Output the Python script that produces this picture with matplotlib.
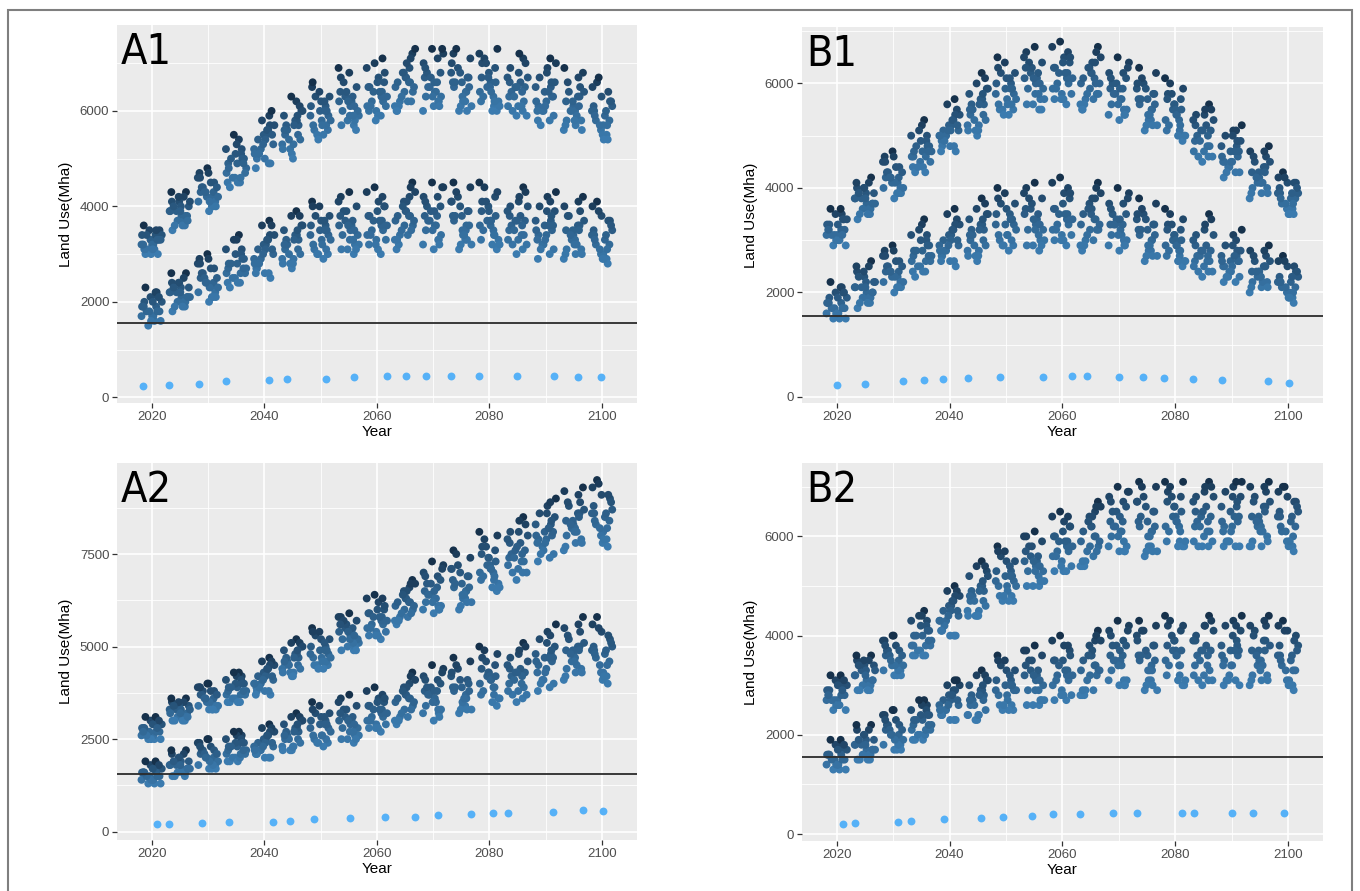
import matplotlib
matplotlib.use("Agg")
import matplotlib.pyplot as plt
from matplotlib.colors import LinearSegmentedColormap
from matplotlib.patches import Rectangle

plt.rcParams['font.family'] = ['Liberation Sans', 'DejaVu Sans']

# time steps of the simulation (points are jittered around these)
YEARS = [2020, 2025, 2030, 2035, 2040, 2045, 2050, 2055, 2060,
         2065, 2070, 2075, 2080, 2085, 2090, 2095, 2100]

# land use, in units of 100 Mha, one row of scenario values per time step
A1_UP = [
    [34, 31, 33, 35, 30, 32, 34, 31, 33, 36, 32, 30, 35, 33, 31, 34, 32, 35, 30, 33, 34, 31, 32, 33],
    [39, 36, 41, 38, 43, 37, 40, 35, 42, 39, 37, 41, 38, 36, 40, 43, 38, 39, 36, 42, 37, 40, 39, 41],
    [43, 40, 46, 42, 48, 41, 44, 39, 47, 43, 41, 45, 42, 40, 44, 47, 42, 43, 40, 46, 41, 45, 43, 44],
    [49, 45, 52, 47, 54, 46, 50, 44, 53, 48, 46, 51, 49, 45, 50, 55, 47, 48, 45, 52, 46, 51, 49, 50],
    [54, 50, 57, 52, 59, 51, 55, 49, 58, 53, 50, 56, 52, 49, 55, 60, 51, 54, 48, 57, 51, 56, 53, 55],
    [57, 52, 60, 55, 62, 53, 58, 51, 61, 56, 53, 59, 55, 52, 58, 63, 54, 57, 50, 60, 54, 59, 56, 57],
    [60, 56, 63, 58, 65, 57, 61, 55, 64, 59, 56, 62, 58, 55, 61, 66, 57, 60, 54, 63, 57, 62, 59, 60],
    [62, 58, 65, 60, 68, 59, 63, 57, 67, 61, 58, 64, 60, 57, 63, 69, 59, 62, 56, 66, 59, 64, 61, 62],
    [64, 60, 67, 62, 70, 61, 65, 59, 69, 63, 60, 66, 62, 59, 65, 71, 61, 64, 58, 68, 61, 66, 63, 64],
    [66, 61, 69, 64, 72, 62, 67, 60, 71, 65, 62, 68, 64, 61, 67, 73, 63, 66, 60, 70, 62, 68, 65, 66],
    [67, 62, 70, 64, 73, 63, 68, 61, 72, 65, 62, 69, 64, 61, 67, 73, 63, 66, 60, 71, 63, 68, 65, 66],
    [66, 61, 69, 64, 72, 62, 67, 60, 71, 65, 62, 68, 64, 61, 67, 73, 63, 66, 60, 70, 62, 68, 65, 66],
    [65, 62, 70, 63, 72, 61, 68, 60, 71, 66, 62, 69, 64, 60, 67, 73, 63, 65, 61, 70, 62, 67, 64, 66],
    [65, 60, 68, 63, 71, 61, 66, 59, 70, 64, 61, 67, 63, 60, 66, 72, 62, 65, 59, 69, 61, 67, 64, 65],
    [64, 59, 67, 62, 70, 60, 65, 58, 69, 63, 60, 66, 61, 58, 65, 71, 61, 63, 57, 68, 60, 66, 62, 64],
    [62, 57, 65, 60, 68, 58, 63, 56, 67, 61, 58, 64, 60, 57, 63, 69, 59, 62, 56, 66, 58, 64, 60, 61],
    [60, 55, 63, 58, 66, 57, 61, 54, 65, 59, 56, 62, 58, 55, 61, 67, 57, 60, 54, 64, 57, 62, 59, 60],
]
A1_LO = [
    [19, 16, 21, 18, 23, 17, 20, 15, 22, 19, 17, 21, 18, 16, 20, 22, 17, 19, 16, 21, 18, 20, 19, 18],
    [22, 19, 24, 21, 26, 20, 23, 18, 25, 22, 20, 24, 21, 19, 23, 26, 20, 22, 19, 24, 21, 23, 22, 21],
    [25, 21, 28, 23, 30, 22, 26, 20, 29, 24, 22, 27, 24, 21, 26, 29, 23, 25, 21, 28, 23, 27, 24, 25],
    [28, 24, 31, 26, 34, 25, 29, 23, 33, 27, 25, 30, 27, 24, 29, 33, 26, 28, 24, 31, 26, 30, 27, 28],
    [31, 26, 34, 29, 37, 27, 32, 25, 36, 30, 27, 33, 29, 26, 32, 36, 28, 31, 26, 34, 28, 33, 30, 31],
    [33, 28, 36, 31, 39, 29, 34, 27, 38, 32, 29, 35, 31, 28, 34, 38, 30, 33, 28, 36, 30, 35, 32, 33],
    [35, 30, 38, 33, 41, 31, 36, 29, 40, 34, 31, 37, 33, 30, 36, 40, 32, 35, 30, 38, 32, 37, 34, 35],
    [36, 31, 40, 34, 43, 32, 37, 30, 42, 35, 32, 39, 34, 31, 37, 41, 33, 36, 31, 39, 33, 38, 35, 36],
    [37, 32, 41, 35, 44, 33, 38, 30, 43, 36, 33, 40, 35, 31, 38, 42, 34, 37, 32, 40, 34, 39, 36, 37],
    [38, 33, 42, 36, 45, 34, 39, 31, 44, 37, 34, 41, 36, 32, 39, 43, 35, 38, 33, 41, 35, 40, 37, 38],
    [38, 33, 42, 36, 45, 34, 40, 31, 44, 37, 33, 41, 36, 32, 39, 44, 35, 38, 32, 42, 35, 40, 37, 39],
    [38, 32, 42, 36, 45, 34, 39, 31, 44, 37, 33, 41, 35, 32, 39, 43, 35, 38, 33, 41, 34, 40, 36, 38],
    [37, 33, 41, 35, 45, 34, 39, 31, 44, 36, 33, 42, 36, 32, 40, 43, 35, 37, 32, 41, 34, 39, 37, 38],
    [37, 32, 41, 35, 44, 33, 38, 30, 43, 36, 33, 40, 35, 31, 38, 42, 34, 37, 32, 40, 34, 39, 36, 37],
    [36, 31, 40, 34, 43, 32, 37, 29, 42, 35, 32, 39, 34, 30, 37, 41, 33, 36, 31, 39, 33, 38, 35, 36],
    [35, 30, 39, 33, 42, 31, 36, 29, 41, 34, 31, 38, 33, 30, 36, 40, 32, 35, 30, 38, 32, 37, 34, 35],
    [34, 29, 38, 32, 41, 30, 35, 28, 40, 33, 30, 37, 32, 29, 35, 39, 31, 34, 29, 37, 31, 36, 33, 34],
]
A1_LOW = [230, 250, 280, 335, 370, 390, 390, 420, 440, 440, 440, 440, 440, 440, 440, 420, 420]

B1_UP = [
    [33, 30, 35, 32, 36, 31, 34, 29, 35, 32, 30, 34, 31, 29, 33, 36, 31, 32, 30, 34, 31, 33, 32, 31],
    [38, 35, 40, 37, 42, 36, 39, 34, 41, 38, 36, 40, 37, 35, 39, 41, 36, 38, 35, 40, 37, 39, 38, 37],
    [42, 39, 45, 41, 47, 40, 43, 38, 46, 42, 40, 44, 41, 39, 43, 46, 40, 42, 39, 45, 41, 44, 42, 43],
    [47, 44, 50, 46, 53, 45, 48, 43, 52, 47, 44, 49, 46, 44, 48, 51, 45, 47, 43, 50, 46, 49, 47, 48],
    [51, 48, 54, 50, 57, 49, 52, 47, 56, 51, 48, 53, 50, 48, 52, 55, 49, 51, 47, 54, 50, 53, 51, 52],
    [56, 51, 59, 54, 62, 52, 57, 50, 61, 55, 52, 58, 54, 51, 57, 60, 53, 56, 51, 59, 53, 58, 55, 56],
    [59, 55, 62, 57, 65, 56, 60, 54, 64, 58, 55, 61, 57, 55, 60, 63, 56, 59, 54, 62, 56, 61, 58, 59],
    [61, 56, 64, 59, 67, 57, 62, 55, 66, 60, 57, 63, 59, 56, 62, 65, 58, 61, 55, 64, 58, 63, 60, 61],
    [62, 57, 65, 60, 68, 58, 63, 56, 67, 61, 58, 64, 60, 57, 63, 66, 59, 62, 57, 65, 59, 64, 61, 62],
    [61, 56, 64, 59, 67, 57, 62, 55, 66, 60, 57, 63, 58, 56, 62, 65, 58, 60, 55, 64, 58, 63, 60, 61],
    [59, 54, 62, 57, 65, 55, 60, 53, 64, 58, 55, 61, 57, 54, 60, 63, 56, 59, 54, 62, 56, 61, 58, 59],
    [57, 52, 60, 55, 63, 53, 58, 51, 62, 56, 53, 59, 55, 52, 58, 61, 54, 57, 52, 60, 54, 59, 56, 57],
    [55, 50, 58, 53, 61, 51, 56, 49, 60, 54, 51, 57, 53, 50, 56, 59, 52, 55, 50, 58, 52, 57, 54, 55],
    [51, 46, 54, 49, 56, 47, 52, 45, 55, 50, 47, 53, 49, 46, 52, 55, 48, 51, 46, 54, 48, 53, 50, 51],
    [47, 43, 50, 45, 52, 44, 48, 42, 51, 46, 44, 49, 45, 43, 48, 51, 45, 47, 43, 50, 45, 49, 46, 47],
    [43, 39, 46, 41, 48, 40, 44, 38, 47, 42, 40, 45, 41, 39, 44, 47, 41, 43, 39, 46, 41, 45, 42, 43],
    [39, 36, 41, 38, 43, 36, 40, 35, 42, 38, 36, 41, 37, 35, 39, 42, 37, 39, 35, 41, 37, 40, 38, 39],
]
B1_LO = [
    [18, 15, 20, 17, 22, 16, 19, 15, 21, 18, 16, 20, 17, 15, 19, 21, 16, 18, 16, 20, 17, 19, 18, 17],
    [21, 18, 24, 20, 26, 19, 22, 17, 25, 21, 19, 23, 20, 18, 22, 25, 19, 21, 18, 24, 20, 23, 21, 22],
    [24, 21, 27, 23, 29, 22, 25, 20, 28, 24, 22, 26, 23, 21, 25, 28, 22, 24, 21, 27, 23, 26, 24, 25],
    [28, 24, 31, 26, 34, 25, 29, 23, 33, 27, 25, 30, 27, 24, 29, 32, 26, 28, 24, 31, 26, 30, 27, 28],
    [30, 26, 33, 28, 36, 27, 31, 25, 35, 29, 27, 32, 29, 26, 31, 34, 28, 30, 26, 33, 28, 32, 29, 30],
    [32, 27, 35, 30, 38, 28, 33, 26, 37, 31, 28, 34, 30, 27, 33, 36, 29, 32, 27, 35, 29, 34, 31, 32],
    [33, 29, 37, 31, 40, 30, 35, 28, 39, 33, 30, 36, 32, 29, 34, 38, 31, 34, 29, 37, 31, 35, 33, 34],
    [34, 29, 38, 32, 41, 30, 36, 28, 40, 33, 30, 37, 32, 29, 35, 39, 31, 34, 29, 38, 32, 36, 33, 35],
    [35, 30, 39, 33, 42, 31, 36, 29, 41, 34, 31, 38, 33, 30, 36, 40, 32, 35, 30, 39, 32, 37, 34, 35],
    [34, 29, 38, 32, 41, 30, 36, 28, 40, 33, 30, 37, 32, 29, 35, 39, 31, 34, 29, 38, 32, 36, 33, 35],
    [33, 29, 37, 31, 40, 30, 35, 28, 39, 33, 30, 36, 32, 29, 34, 38, 31, 33, 29, 37, 31, 35, 33, 34],
    [32, 27, 35, 30, 38, 28, 33, 26, 37, 31, 28, 34, 30, 27, 33, 36, 29, 32, 27, 35, 29, 34, 31, 32],
    [30, 26, 33, 28, 36, 27, 31, 25, 35, 29, 27, 32, 29, 26, 31, 34, 28, 30, 26, 33, 28, 32, 29, 30],
    [28, 24, 32, 26, 35, 25, 29, 23, 34, 27, 25, 31, 27, 24, 29, 33, 26, 28, 24, 31, 26, 30, 27, 28],
    [26, 23, 29, 25, 32, 23, 27, 22, 31, 26, 24, 28, 25, 22, 27, 30, 24, 26, 23, 29, 25, 28, 26, 27],
    [24, 21, 27, 23, 29, 22, 25, 20, 28, 24, 22, 26, 23, 21, 25, 28, 22, 24, 21, 27, 23, 26, 24, 25],
    [22, 19, 25, 21, 27, 20, 23, 18, 26, 22, 20, 24, 21, 19, 23, 26, 20, 22, 19, 25, 21, 24, 22, 23],
]
B1_LOW = [223, 248, 299, 318, 344, 363, 382, 382, 408, 408, 389, 389, 369, 344, 325, 299, 268]

A2_UP = [
    [28, 25, 30, 27, 31, 26, 29, 25, 30, 28, 26, 29, 27, 25, 28, 31, 26, 27, 25, 30, 26, 29, 27, 28],
    [33, 30, 35, 32, 36, 31, 34, 30, 35, 33, 31, 34, 32, 30, 33, 36, 31, 32, 30, 35, 31, 34, 32, 33],
    [37, 33, 39, 35, 40, 34, 38, 33, 39, 36, 34, 38, 35, 33, 37, 40, 34, 36, 33, 39, 35, 38, 36, 37],
    [39, 35, 42, 37, 43, 36, 40, 35, 42, 38, 36, 41, 38, 35, 40, 43, 37, 39, 35, 41, 37, 40, 38, 39],
    [42, 38, 45, 40, 47, 39, 43, 37, 46, 41, 38, 44, 40, 38, 43, 46, 39, 42, 37, 45, 40, 44, 41, 42],
    [47, 43, 50, 45, 52, 44, 48, 42, 51, 46, 43, 49, 45, 43, 48, 51, 44, 47, 42, 50, 45, 49, 46, 47],
    [49, 45, 53, 47, 55, 46, 50, 44, 54, 48, 45, 52, 47, 45, 50, 54, 46, 49, 44, 52, 47, 51, 48, 49],
    [54, 50, 57, 52, 59, 51, 55, 49, 58, 53, 50, 56, 52, 49, 55, 58, 51, 54, 49, 57, 52, 56, 53, 54],
    [58, 53, 62, 56, 64, 54, 59, 52, 63, 57, 54, 60, 56, 53, 59, 63, 55, 58, 53, 61, 55, 60, 57, 58],
    [62, 57, 66, 60, 68, 58, 63, 56, 67, 61, 58, 65, 60, 57, 63, 67, 59, 62, 57, 65, 59, 64, 61, 62],
    [65, 60, 70, 63, 73, 61, 67, 59, 72, 64, 61, 69, 63, 60, 67, 71, 62, 66, 60, 69, 62, 68, 64, 65],
    [67, 62, 72, 65, 76, 63, 69, 60, 74, 66, 63, 71, 65, 61, 69, 75, 64, 68, 62, 71, 64, 70, 66, 67],
    [72, 67, 77, 70, 81, 68, 74, 65, 79, 71, 68, 76, 70, 66, 74, 80, 69, 72, 66, 77, 69, 75, 71, 73],
    [76, 70, 81, 74, 85, 72, 78, 68, 83, 75, 71, 80, 74, 70, 78, 84, 73, 76, 70, 81, 73, 79, 75, 77],
    [81, 75, 86, 79, 90, 77, 83, 73, 88, 80, 76, 85, 79, 74, 83, 89, 78, 81, 75, 86, 78, 84, 80, 82],
    [84, 78, 89, 82, 93, 80, 86, 76, 91, 83, 79, 88, 82, 77, 86, 92, 81, 84, 78, 89, 81, 87, 83, 85],
    [86, 79, 91, 84, 95, 81, 88, 77, 93, 85, 80, 90, 83, 78, 87, 94, 82, 86, 79, 91, 82, 89, 84, 86],
]
A2_LO = [
    [16, 13, 18, 15, 19, 14, 17, 13, 18, 16, 14, 17, 15, 13, 16, 19, 14, 16, 14, 18, 15, 17, 16, 15],
    [18, 15, 21, 17, 22, 16, 19, 15, 21, 18, 16, 20, 17, 15, 19, 22, 16, 18, 16, 20, 17, 19, 18, 17],
    [21, 17, 24, 19, 25, 18, 22, 17, 24, 20, 18, 23, 20, 17, 22, 25, 19, 21, 18, 23, 19, 22, 20, 21],
    [23, 19, 26, 21, 27, 20, 24, 19, 26, 22, 20, 25, 22, 19, 24, 27, 21, 23, 20, 25, 21, 24, 22, 23],
    [24, 20, 27, 22, 29, 21, 25, 20, 28, 23, 21, 26, 23, 20, 25, 28, 22, 24, 21, 27, 22, 26, 23, 24],
    [27, 22, 30, 25, 32, 23, 28, 22, 31, 26, 23, 29, 25, 22, 28, 31, 24, 27, 23, 30, 25, 29, 26, 27],
    [29, 24, 32, 26, 35, 25, 30, 23, 34, 28, 25, 31, 27, 24, 30, 33, 26, 29, 24, 32, 26, 31, 28, 29],
    [30, 25, 34, 28, 37, 26, 31, 24, 36, 29, 26, 33, 28, 25, 31, 35, 27, 30, 25, 33, 27, 32, 29, 30],
    [33, 28, 36, 31, 39, 29, 34, 27, 38, 32, 29, 35, 31, 28, 34, 37, 30, 33, 28, 36, 30, 35, 32, 33],
    [36, 30, 40, 33, 43, 31, 37, 29, 42, 35, 31, 39, 34, 30, 37, 41, 32, 36, 30, 39, 33, 38, 35, 36],
    [38, 32, 42, 35, 45, 33, 39, 30, 44, 37, 33, 41, 36, 31, 39, 43, 34, 38, 32, 41, 35, 40, 37, 38],
    [39, 33, 44, 36, 47, 34, 41, 32, 46, 38, 34, 42, 37, 33, 40, 45, 35, 39, 33, 43, 36, 41, 38, 39],
    [42, 36, 47, 39, 50, 37, 43, 34, 49, 41, 37, 45, 40, 35, 43, 48, 38, 42, 36, 46, 39, 44, 41, 42],
    [43, 37, 48, 40, 51, 38, 44, 35, 50, 42, 38, 46, 41, 36, 44, 49, 39, 43, 37, 47, 40, 45, 42, 43],
    [47, 40, 52, 44, 56, 41, 48, 38, 54, 46, 41, 50, 45, 39, 48, 53, 43, 47, 40, 51, 43, 49, 46, 47],
    [49, 43, 54, 46, 58, 44, 50, 41, 56, 48, 44, 52, 47, 42, 50, 55, 45, 49, 43, 53, 46, 51, 48, 49],
    [49, 42, 54, 46, 58, 43, 50, 40, 56, 48, 43, 52, 47, 41, 50, 55, 45, 49, 42, 53, 45, 51, 48, 49],
]
A2_LOW = [198, 198, 225, 270, 270, 298, 334, 360, 406, 406, 442, 469, 505, 505, 532, 577, 568]

B2_UP = [
    [29, 26, 31, 28, 32, 27, 30, 25, 31, 28, 26, 30, 27, 25, 29, 32, 27, 28, 26, 31, 27, 30, 28, 29],
    [33, 29, 35, 31, 36, 30, 34, 29, 35, 32, 30, 34, 31, 29, 33, 36, 30, 32, 29, 35, 31, 34, 32, 33],
    [36, 32, 39, 34, 40, 33, 37, 32, 39, 35, 33, 38, 34, 32, 37, 40, 34, 36, 33, 38, 34, 37, 35, 36],
    [40, 36, 43, 38, 45, 37, 41, 36, 44, 39, 37, 42, 38, 36, 41, 44, 38, 40, 36, 43, 38, 42, 39, 40],
    [45, 40, 48, 43, 50, 41, 46, 40, 49, 44, 41, 47, 43, 40, 46, 49, 42, 45, 41, 48, 43, 47, 44, 45],
    [49, 44, 53, 47, 55, 45, 50, 44, 54, 48, 45, 52, 47, 44, 50, 54, 46, 49, 44, 52, 47, 51, 48, 49],
    [52, 47, 56, 50, 58, 48, 53, 47, 57, 51, 48, 55, 50, 47, 53, 57, 49, 52, 48, 55, 50, 54, 51, 52],
    [55, 50, 59, 53, 61, 51, 56, 50, 60, 54, 51, 58, 53, 50, 56, 60, 52, 55, 51, 58, 53, 57, 54, 55],
    [59, 53, 63, 57, 65, 54, 60, 53, 64, 58, 55, 62, 57, 53, 60, 64, 56, 59, 54, 62, 56, 61, 58, 59],
    [60, 54, 65, 58, 67, 55, 62, 54, 66, 59, 56, 64, 58, 54, 62, 66, 57, 60, 55, 64, 57, 63, 59, 61],
    [63, 57, 68, 61, 70, 58, 65, 57, 69, 62, 59, 67, 61, 57, 65, 69, 60, 63, 58, 67, 60, 66, 62, 64],
    [63, 57, 68, 61, 71, 58, 65, 56, 70, 62, 58, 67, 61, 57, 65, 70, 60, 63, 57, 67, 60, 66, 62, 64],
    [64, 58, 69, 62, 71, 59, 66, 58, 70, 63, 59, 68, 62, 58, 66, 71, 61, 64, 59, 68, 61, 67, 63, 65],
    [64, 58, 69, 62, 71, 59, 66, 58, 70, 63, 60, 68, 62, 58, 65, 70, 61, 64, 59, 68, 61, 67, 63, 65],
    [65, 58, 69, 62, 71, 59, 66, 58, 70, 63, 59, 68, 62, 58, 66, 71, 61, 64, 59, 68, 61, 67, 63, 64],
    [64, 58, 69, 62, 71, 59, 66, 58, 70, 63, 60, 68, 62, 58, 66, 70, 61, 64, 59, 67, 61, 67, 63, 65],
    [64, 58, 68, 62, 70, 59, 65, 57, 69, 63, 59, 67, 61, 58, 65, 70, 60, 64, 59, 67, 61, 66, 62, 64],
]
B2_LO = [
    [16, 13, 18, 15, 19, 14, 17, 13, 18, 16, 14, 17, 15, 13, 16, 19, 14, 16, 14, 18, 15, 17, 16, 15],
    [18, 15, 21, 17, 22, 16, 19, 15, 21, 18, 16, 20, 17, 15, 19, 22, 16, 18, 15, 20, 17, 19, 18, 17],
    [21, 17, 24, 19, 25, 18, 22, 17, 24, 20, 18, 23, 20, 17, 22, 25, 19, 21, 18, 23, 19, 22, 20, 21],
    [23, 19, 26, 21, 27, 20, 24, 19, 26, 22, 20, 25, 22, 19, 24, 27, 21, 23, 20, 25, 21, 24, 22, 23],
    [27, 23, 30, 25, 31, 24, 28, 23, 30, 26, 24, 29, 26, 23, 28, 31, 25, 27, 24, 29, 25, 28, 26, 27],
    [28, 23, 31, 26, 33, 24, 29, 23, 32, 27, 24, 30, 27, 24, 29, 32, 25, 28, 24, 31, 26, 30, 27, 28],
    [30, 25, 34, 28, 36, 26, 31, 25, 35, 29, 26, 33, 29, 25, 31, 35, 27, 30, 26, 33, 28, 32, 29, 30],
    [32, 26, 36, 29, 38, 27, 33, 26, 37, 31, 27, 35, 30, 26, 33, 37, 29, 32, 27, 35, 29, 34, 31, 32],
    [33, 27, 38, 31, 40, 28, 35, 27, 39, 32, 29, 37, 32, 28, 35, 38, 30, 33, 28, 36, 31, 35, 32, 34],
    [34, 28, 39, 32, 41, 29, 36, 28, 40, 33, 29, 38, 33, 28, 36, 39, 31, 34, 29, 37, 32, 36, 33, 35],
    [36, 30, 41, 34, 43, 31, 38, 30, 42, 35, 31, 40, 35, 30, 38, 41, 33, 36, 31, 39, 34, 38, 35, 37],
    [36, 29, 41, 33, 43, 31, 38, 29, 42, 35, 31, 40, 34, 30, 38, 41, 33, 36, 30, 39, 33, 37, 35, 36],
    [37, 30, 42, 34, 44, 32, 39, 30, 43, 36, 32, 41, 35, 31, 39, 42, 34, 37, 31, 40, 34, 38, 36, 37],
    [37, 31, 42, 34, 44, 32, 38, 30, 43, 36, 32, 41, 35, 31, 39, 42, 33, 37, 31, 40, 34, 39, 36, 37],
    [37, 30, 42, 34, 44, 31, 39, 30, 43, 36, 32, 41, 35, 31, 38, 42, 34, 37, 31, 40, 34, 38, 36, 37],
    [37, 31, 42, 34, 44, 32, 39, 30, 43, 35, 32, 41, 35, 31, 39, 42, 34, 37, 31, 40, 33, 38, 36, 37],
    [36, 30, 41, 33, 43, 31, 38, 29, 42, 35, 31, 40, 34, 30, 38, 41, 33, 36, 30, 39, 33, 37, 35, 36],
]
B2_LOW = [195, 222, 249, 269, 296, 323, 343, 370, 397, 397, 424, 424, 424, 424, 424, 424, 424]

THRESHOLD = 1555

# ---- styling ----
# horizontal jitter (years) used for the scenario points
JIT = [-1.7, 0.5, -0.2, 1.4, -1.1, 0.1, 1.8, -0.6, 0.9, -1.4, 0.3, 1.1,
       -0.4, 1.6, -1.3, 0.7, -1.8, 0.8, -0.1, 1.3, -0.9, 0.2, -1.5, 1.0]
# jitter of the single low points, as seen in each panel
LOW_JIT = {
    'A1': [-1.5, -1.9, -1.5, -1.8, 0.8, -1.0, 0.9, 1.0, 1.8, 0.1, -1.2, -1.9, -1.8, -0.2, 1.5, 0.7, -0.2],
    'B1': [0.0, 0.1, 1.7, 0.4, -1.1, -1.8, -1.1, 1.5, 1.7, -0.7, 0.0, -0.7, -1.9, -1.8, -1.7, 1.4, 0.1],
    'A2': [0.9, -1.9, -1.1, -1.3, 1.5, -0.4, -1.2, 0.2, 1.5, 1.8, 0.8, 1.8, 0.7, -1.7, 1.2, 1.6, 0.1],
    'B2': [1.2, -1.8, 0.9, -1.9, -1.0, 0.5, -0.5, -0.4, -1.7, -1.9, -1.0, -1.8, 1.2, -1.6, 0.0, -1.2, -0.8],
}

cmap = LinearSegmentedColormap.from_list('gg', ['#132B43', '#56B1F7'])
DOT = 32


def panel(ax, tag, up, lo, low, yticks, ylim):
    ax.set_facecolor('#EBEBEB')
    xs, ys, cs = [], [], []
    for band in (up, lo):
        for k, (yr, vals) in enumerate(zip(YEARS, band)):
            hi, mn = max(vals), min(vals)
            for i, v in enumerate(vals):
                xs.append(yr + JIT[(i + 7 * k) % len(JIT)])
                ys.append(v * 100)
                frac = (hi - v) / (hi - mn)
                cs.append(0.05 + 0.55 * frac ** 0.7)
    ax.scatter(xs, ys, c=cs, cmap=cmap, vmin=0, vmax=1, s=DOT, linewidths=0, zorder=3)
    lx = [y + o for y, o in zip(YEARS, LOW_JIT[tag])]
    ax.scatter(lx, low, color='#56B1F7', s=DOT, linewidths=0, zorder=3)
    ax.axhline(THRESHOLD, color='#2b2b2b', lw=1.3, zorder=4)

    ax.set_xlim(2013.85, 2106.2)
    ax.set_ylim(*ylim)
    ax.set_xticks([2020, 2040, 2060, 2080, 2100])
    ax.set_xticks([2030, 2050, 2070, 2090], minor=True)
    ax.set_yticks(yticks)
    step = yticks[1] - yticks[0]
    ax.set_yticks([t + step / 2 for t in yticks if t + step / 2 < ylim[1]], minor=True)
    ax.grid(which='major', color='white', lw=1.2)
    ax.grid(which='minor', color='white', lw=0.6)
    ax.set_axisbelow(True)
    for s in ax.spines.values():
        s.set_visible(False)
    ax.tick_params(which='major', length=3.5, width=0.9, color='#333333',
                   labelcolor='#4D4D4D', labelsize=9.5, pad=2)
    ax.tick_params(which='minor', length=0)
    ax.set_xlabel('Year', fontsize=11, labelpad=2)
    ax.set_ylabel('Land Use(Mha)', fontsize=11, labelpad=5)
    ax.text(0.008, 0.985, tag, transform=ax.transAxes, ha='left', va='top',
            fontsize=31, family='DejaVu Sans', fontstretch='condensed', zorder=5)


fig = plt.figure(figsize=(13.6, 8.91), dpi=100)
W, H = 1360, 891


def add_axes(l, t, r, b):
    return fig.add_axes([l / W, 1 - b / H, (r - l) / W, (b - t) / H])


ax_a1 = add_axes(117, 25, 637, 403)
ax_b1 = add_axes(802, 27, 1323, 403)
ax_a2 = add_axes(117, 463, 637, 840)
ax_b2 = add_axes(802, 463, 1323, 841)

panel(ax_a1, 'A1', A1_UP, A1_LO, A1_LOW, [0, 2000, 4000, 6000], (-120, 7800))
panel(ax_b1, 'B1', B1_UP, B1_LO, B1_LOW, [0, 2000, 4000, 6000], (-115, 7080))
panel(ax_a2, 'A2', A2_UP, A2_LO, A2_LOW, [0, 2500, 5000, 7500], (-225, 9960))
panel(ax_b2, 'B2', B2_UP, B2_LO, B2_LOW, [0, 2000, 4000, 6000], (-140, 7480))

fig.add_artist(Rectangle((8 / W, -0.02), (1352 - 8) / W, 1.02 - 10 / H,
                         transform=fig.transFigure, fill=False,
                         edgecolor='#7f7f7f', lw=1.5))

fig.savefig('out.png', dpi=100, facecolor='white')
